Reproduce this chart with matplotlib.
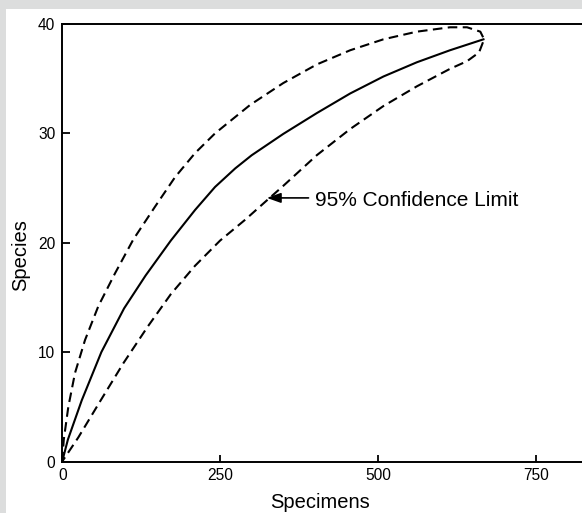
import matplotlib
matplotlib.use("Agg")
import matplotlib.pyplot as plt
from matplotlib.patches import Rectangle

plt.rcParams['font.family'] = ['Liberation Sans', 'DejaVu Sans']

# --- data ---
mean_x = [0, 9, 31, 62, 98, 132, 172, 210.4, 242, 274, 300,
          350, 403, 456, 508.6, 561.5, 614, 667]
mean_y = [0, 2.0, 5.6, 10.0, 14.0, 17.0, 20.2, 23.0, 25.1, 26.8, 28.0,
          29.95, 31.85, 33.65, 35.2, 36.5, 37.6, 38.6]

upper_x = [0, 2.5, 9.7, 20.3, 36.1, 57.2, 83.6, 112.6, 147, 178.7, 210.4, 242, 274,
           297.5, 350, 403, 456, 508.6, 561.5, 614, 641, 662, 668]
upper_y = [0, 2.0, 5.0, 8.1, 11.1, 14.2, 17.2, 20.3, 23.3, 26.0, 28.2, 30.0, 31.5,
           32.6, 34.6, 36.3, 37.6, 38.6, 39.3, 39.7, 39.7, 39.3, 38.6]

lower_x = [0, 25.5, 60, 97, 135, 172, 210.4, 250, 289.6, 326.5, 350, 403, 456,
           508.6, 561.5, 614, 641, 660, 668]
lower_y = [0, 2.2, 5.5, 9.0, 12.3, 15.3, 17.9, 20.2, 22.1, 24.0, 25.2, 28.0, 30.4,
           32.5, 34.3, 35.9, 36.6, 37.4, 38.6]

x_ticks = [0, 250, 500, 750]
y_ticks = [0, 10, 20, 30, 40]
annotation = "95% Confidence Limit"
arrow_tip = (324, 24.1)
arrow_tail = (390, 24.1)
text_pos = (400, 23.4)

W, H = 582, 513
fig = plt.figure(figsize=(W / 100, H / 100), dpi=100)
fig.patch.set_facecolor('#dcdddd')
panel = Rectangle((6 / W, 0), 1 - 6 / W, 1 - 9 / H, transform=fig.transFigure,
                  facecolor='white', edgecolor='none', zorder=-10)
fig.patches.append(panel)

left = 62.2 / W
bottom = (H - 461.5) / H
top = (H - 24) / H
ax = fig.add_axes([left, bottom, 1 - left, top - bottom])
ax.set_zorder(5)
ax.set_facecolor('white')
ax.set_xlim(0, 823)
ax.set_ylim(0, 40)

# confidence loop: upper limit then lower limit back to origin
loop_x = upper_x + lower_x[::-1]
loop_y = upper_y + lower_y[::-1]
ax.plot(loop_x, loop_y, color='black', lw=1.5, linestyle=(0, (4.6, 2.6)),
        solid_joinstyle='round', dash_joinstyle='round', clip_on=False)
ax.plot(mean_x, mean_y, color='black', lw=1.5, solid_joinstyle='round')

ax.annotate('', xy=arrow_tip, xytext=arrow_tail,
            arrowprops=dict(arrowstyle='-|>,head_length=0.7,head_width=0.25', color='black',
                            lw=1.2, shrinkA=0, shrinkB=0, mutation_scale=12))
ax.text(text_pos[0], text_pos[1], annotation, fontsize=15, ha='left', va='baseline')

ax.set_xticks(x_ticks)
ax.set_yticks(y_ticks)
ax.tick_params(direction='in', length=5.4, width=1.3, labelsize=11.2, pad=5)
for s in ['left', 'bottom', 'top']:
    ax.spines[s].set_linewidth(1.4)
ax.spines['right'].set_visible(False)

ax.set_xlabel('Specimens', fontsize=14.5)
ax.xaxis.label.set_va('baseline')
ax.xaxis.set_label_coords((320 - 62.2) / (W - 62.2), (461.5 - 508.3) / (461.5 - 24))
ax.set_ylabel('Species', fontsize=14.5)
ax.yaxis.label.set_va('center')
ax.yaxis.set_label_coords((20.5 - 62.2) / (W - 62.2), (461.5 - 255) / (461.5 - 24))

fig.savefig('out.png', dpi=100, facecolor=fig.get_facecolor())
